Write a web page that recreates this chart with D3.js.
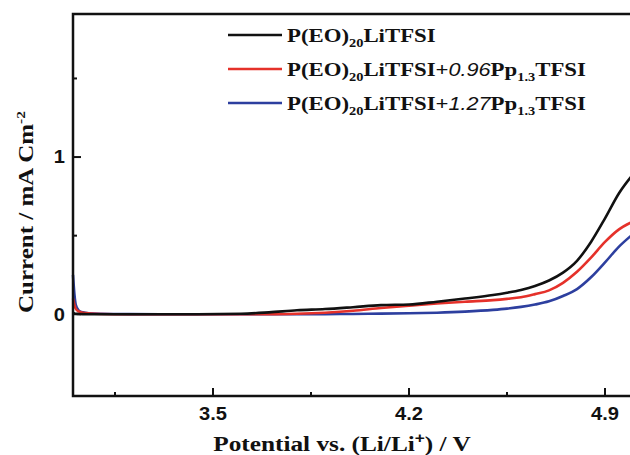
<!DOCTYPE html>
<html lang="en">
<head>
<meta charset="UTF-8">
<title>Linear sweep voltammetry</title>
<script src="https://d3js.org/d3.v7.min.js"></script>
<style>
    body { margin: 0; background: #fff; }
    svg { display: block; }
    .tick-label { font: bold 17.5px "Liberation Sans", Arial, sans-serif; fill: #111; }
    .title { font-family: "Liberation Serif", "Times New Roman", serif; font-weight: bold; fill: #111; }
    .legend text { font: bold 19px "Liberation Serif", "Times New Roman", serif; fill: #111; }
</style>
</head>
<body>
<div id="chart"></div>
<script>
    // potential (V vs Li/Li+)
    var potential = [3.0, 3.005, 3.01, 3.02, 3.035, 3.06, 3.1, 3.2, 3.4, 3.6, 3.7, 3.8, 3.9, 4.0, 4.1, 4.2,
        4.3, 4.4, 4.5, 4.55, 4.6, 4.65, 4.7, 4.75, 4.8, 4.85, 4.9, 4.95, 5.0];
    // current density, mA cm-2
    var peoLitfsi = [0.01, 0.005, 0.003, 0.002, 0.001, 0, 0, 0, 0, 0.003, 0.012, 0.025, 0.033, 0.045, 0.058, 0.062,
        0.08, 0.1, 0.122, 0.137, 0.155, 0.18, 0.215, 0.265, 0.34, 0.46, 0.61, 0.77, 0.89];
    var pp096 = [0.1, 0.06, 0.035, 0.018, 0.01, 0.005, 0.002, 0, 0, 0, 0, 0.003, 0.01, 0.022, 0.04, 0.055,
        0.068, 0.08, 0.09, 0.098, 0.108, 0.128, 0.152, 0.2, 0.27, 0.36, 0.46, 0.54, 0.59];
    var pp127 = [0.25, 0.13, 0.06, 0.025, 0.012, 0.006, 0.003, 0.001, 0, 0, 0, 0, 0.001, 0.002, 0.004, 0.006,
        0.01, 0.017, 0.028, 0.036, 0.047, 0.062, 0.082, 0.116, 0.16, 0.235, 0.33, 0.43, 0.51];

    var xMajor = [3.5, 4.2, 4.9];
    var xMinor = [3.15, 3.85, 4.55];
    var yMajor = [0, 1];
    var yMinor = [0.5, 1.5];

    var series = [
        {name: "1.27", values: pp127, color: "#2d3f9f"},
        {name: "0.96", values: pp096, color: "#e5312a"},
        {name: "", values: peoLitfsi, color: "#111111"}
    ];

    var width = 630, height = 455;
    var mLeft = 73, mRight = 633, mTop = 14, mBottom = 396;

    var x = d3.scaleLinear().domain([3.0, 5.0]).range([mLeft, mRight]);
    var y = d3.scaleLinear().domain([-0.52, 1.91]).range([mBottom, mTop]);

    var svg = d3.select("#chart").append("svg")
        .attr("width", width)
        .attr("height", height);

    // curves
    var line = d3.line()
        .x((d, i) => x(potential[i]))
        .y(d => y(d))
        .curve(d3.curveMonotoneX);

    svg.append("g")
        .selectAll("path")
        .data(series)
        .enter().append("path")
        .attr("fill", "none")
        .attr("stroke", d => d.color)
        .attr("stroke-width", 2.6)
        .attr("d", d => line(d.values));

    // frame (right side falls outside the picture)
    svg.append("path")
        .attr("fill", "none")
        .attr("stroke", "#111")
        .attr("stroke-width", 2.5)
        .attr("d", `M${mRight},${mTop}H${mLeft}V${mBottom}H${mRight}`);

    // inward ticks
    var ticks = svg.append("g").attr("stroke", "#111").attr("stroke-width", 2);
    ticks.selectAll(".xmaj").data(xMajor).enter().append("line")
        .attr("x1", d => x(d)).attr("x2", d => x(d))
        .attr("y1", mBottom).attr("y2", mBottom - 8);
    ticks.selectAll(".xmin").data(xMinor).enter().append("line")
        .attr("x1", d => x(d)).attr("x2", d => x(d))
        .attr("y1", mBottom).attr("y2", mBottom - 4);
    ticks.selectAll(".ymaj").data(yMajor).enter().append("line")
        .attr("x1", mLeft).attr("x2", mLeft + 8)
        .attr("y1", d => y(d)).attr("y2", d => y(d));
    ticks.selectAll(".ymin").data(yMinor).enter().append("line")
        .attr("x1", mLeft).attr("x2", mLeft + 4)
        .attr("y1", d => y(d)).attr("y2", d => y(d));

    // the original lettering is a little wider than the fonts we have
    var stretch = 1.15;

    svg.append("g").selectAll("text")
        .data(xMajor)
        .enter().append("text")
        .attr("class", "tick-label")
        .attr("transform", d => `translate(${x(d)},419.5) scale(${stretch},1)`)
        .attr("text-anchor", "middle")
        .text(d => d.toFixed(1));

    svg.append("g").selectAll("text")
        .data(yMajor)
        .enter().append("text")
        .attr("class", "tick-label")
        .attr("transform", d => `translate(65,${y(d)}) scale(${stretch},1)`)
        .attr("dy", "0.36em")
        .attr("text-anchor", "end")
        .text(d => d);

    // axis titles
    var xt = svg.append("text")
        .attr("class", "title")
        .attr("transform", `translate(342,450.5) scale(${stretch},1)`)
        .attr("text-anchor", "middle")
        .style("font-size", "22px");
    xt.append("tspan").text("Potential vs. (Li/Li");
    xt.append("tspan").attr("dy", -8).style("font-size", "15px")
        .style("font-family", "'Liberation Sans', Arial, sans-serif").text("+");
    xt.append("tspan").attr("dy", 8).text(") / V");

    var yt = svg.append("text")
        .attr("class", "title")
        .attr("transform", `translate(33,212) rotate(-90) scale(1.19,1)`)
        .attr("text-anchor", "middle")
        .style("font-size", "21px");
    yt.append("tspan").text("Current / mA Cm");
    yt.append("tspan").attr("dy", -8).style("font-size", "13px").text("-2");

    // legend
    var legendRows = [
        {color: "#111111", amount: null},
        {color: "#e5312a", amount: "0.96"},
        {color: "#2d3f9f", amount: "1.27"}
    ];
    var legend = svg.append("g").attr("class", "legend");
    var row = legend.selectAll("g")
        .data(legendRows)
        .enter().append("g")
        .attr("transform", (d, i) => `translate(0,${35 + i * 34})`);
    row.append("line")
        .attr("x1", 228).attr("x2", 282)
        .attr("stroke", d => d.color)
        .attr("stroke-width", 2.6);
    row.each(function(d) {
        var t = d3.select(this).append("text")
            .attr("transform", "translate(287,7) scale(1.2,1)");
        t.append("tspan").text("P(EO)");
        t.append("tspan").attr("dy", 5).style("font-size", "12px").text("20");
        t.append("tspan").attr("dy", -5).text("LiTFSI");
        if (d.amount) {
            t.append("tspan").text("+");
            t.append("tspan")
                .style("font", "italic 18px 'Liberation Sans', Arial, sans-serif")
                .text(d.amount);
            t.append("tspan").text("Pp");
            t.append("tspan").attr("dy", 5).style("font-size", "12px").text("1.3");
            t.append("tspan").attr("dy", -5).text("TFSI");
        }
    });
</script>
</body>
</html>
